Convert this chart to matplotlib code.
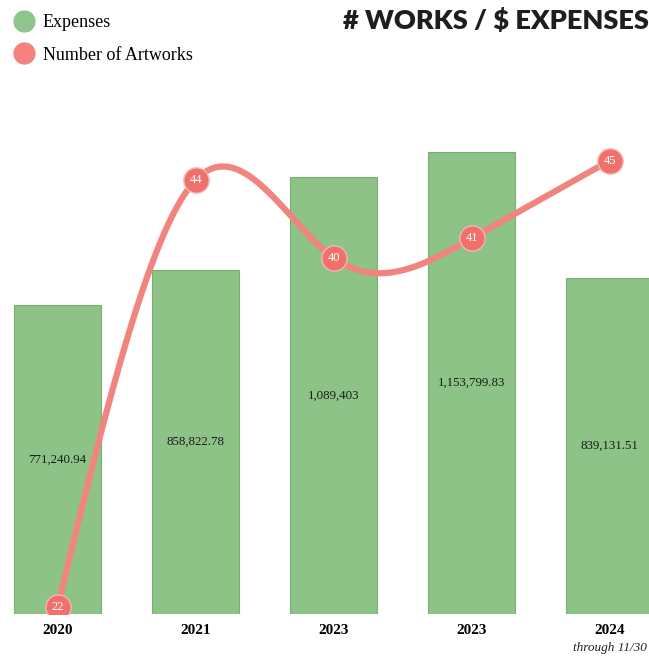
import numpy as np
import matplotlib.pyplot as plt
from matplotlib.lines import Line2D

# data
years = ['2020', '2021', '2023', '2023', '2024']
expenses = [771240.94, 858822.78, 1089403, 1153799.83, 839131.51]
expense_labels = ['771,240.94', '858,822.78', '1,089,403', '1,153,799.83', '839,131.51']
artworks = [22, 44, 40, 41, 45]

green = '#8dc386'
red = '#f2847f'


def natural_spline(x, y, n=300):
    # plain natural cubic spline, only used to draw the smooth line
    x = np.asarray(x, float)
    y = np.asarray(y, float)
    k = len(x)
    h = np.diff(x)
    A = np.zeros((k, k))
    b = np.zeros(k)
    A[0, 0] = A[-1, -1] = 1
    for i in range(1, k - 1):
        A[i, i - 1] = h[i - 1]
        A[i, i] = 2 * (h[i - 1] + h[i])
        A[i, i + 1] = h[i]
        b[i] = 6 * ((y[i + 1] - y[i]) / h[i] - (y[i] - y[i - 1]) / h[i - 1])
    M = np.linalg.solve(A, b)
    xs = np.linspace(x[0], x[-1], n)
    ys = np.empty_like(xs)
    for j, t in enumerate(xs):
        i = min(np.searchsorted(x, t, side='right') - 1, k - 2)
        a, c = x[i], x[i + 1]
        ys[j] = (M[i] * (c - t) ** 3 / (6 * h[i]) + M[i + 1] * (t - a) ** 3 / (6 * h[i])
                 + (y[i] / h[i] - M[i] * h[i] / 6) * (c - t)
                 + (y[i + 1] / h[i] - M[i + 1] * h[i] / 6) * (t - a))
    return xs, ys


fig = plt.figure(figsize=(6.49, 6.56), dpi=100)
ax = fig.add_axes([0, 42 / 656, 1, (614 - 100) / 656])
x = np.arange(len(years))

ax.bar(x, expenses, width=0.63, color=green, edgecolor='#7aaf74', linewidth=0.8)
for xi, v, lab in zip(x, expenses, expense_labels):
    ax.text(xi, v / 2, lab, ha='center', va='center', fontsize=9.3,
            family='Liberation Serif', color='#1a1a1a')

ax.set_xlim(-0.417, 4.286)
ax.set_ylim(0, 1282700)
ax.set_yticks([])
ax.set_xticks(x)
ax.set_xticklabels(years, family='Liberation Serif', fontweight='bold', fontsize=11)
ax.tick_params(axis='x', length=0, pad=7)
for s in ax.spines.values():
    s.set_visible(False)
ax.text(x[-1], -0.067, 'through 11/30', transform=ax.get_xaxis_transform(),
        ha='center', va='center', fontsize=9.5, style='italic', family='Liberation Serif',
        color='#222222')

ax2 = ax.twinx()
ax2.set_ylim(21.64, 48.13)
ax2.set_yticks([])
for s in ax2.spines.values():
    s.set_visible(False)
xs, ys = natural_spline(x, artworks)
ax2.plot(xs, ys, color=red, lw=4.5, solid_capstyle='round', zorder=2)
ax2.scatter(x, artworks, s=330, color='#f0706b', edgecolor='#f7b5b0', linewidth=1, zorder=3)
for xi, n in zip(x, artworks):
    ax2.text(xi, n, str(n), ha='center', va='center', fontsize=9,
             family='Liberation Serif', color='white', zorder=4)

# legend
handles = [Line2D([], [], marker='o', ls='', markersize=15, color='#8fc48c'),
           Line2D([], [], marker='o', ls='', markersize=15, color='#f5827e')]
fig.legend(handles, ['Expenses', 'Number of Artworks'], loc='upper left',
           bbox_to_anchor=(-0.008, 1.0), frameon=False, handletextpad=0.25,
           labelspacing=0.85, borderpad=0.3, handlelength=1.6,
           prop={'family': 'Liberation Serif', 'size': 13})

fig.text(343 / 649, 1 - 21 / 656, '# WORKS / $ EXPENSES', ha='left', va='center',
         fontsize=19.5, fontweight='heavy', family='Lato', color='#1e1e1e')

fig.savefig('out.png', dpi=100)
